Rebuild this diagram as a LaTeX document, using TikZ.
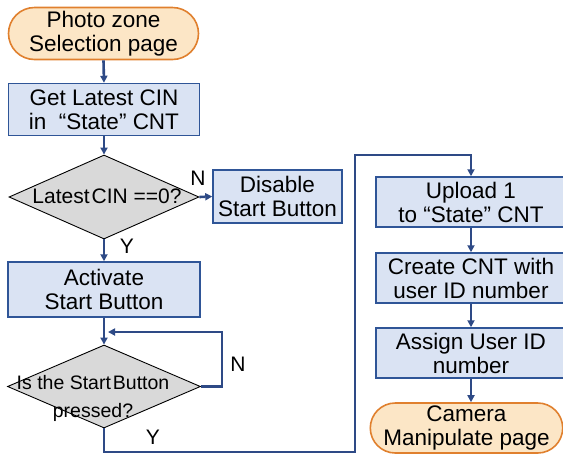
\documentclass[tikz,border=0pt]{standalone}
\usepackage{fontspec}
\setmainfont{Liberation Sans}
\usetikzlibrary{shapes.misc,shapes.geometric,arrows.meta}
\definecolor{termfill}{HTML}{FCE6C6}
\definecolor{termdraw}{HTML}{E0802E}
\definecolor{boxfill}{HTML}{DAE3F3}
\definecolor{boxdraw}{HTML}{2F5597}
\definecolor{arrowcol}{HTML}{2E4A86}
\definecolor{diafill}{HTML}{D9D9D9}
\begin{document}
\begin{tikzpicture}[x=1pt,y=-1pt,
  term/.style={rounded rectangle, draw=termdraw, fill=termfill, line width=1.6pt, inner sep=0pt, align=center, font=\fontsize{22.5}{23.5}\selectfont},
  procbox/.style={rectangle, draw=boxdraw, fill=boxfill, line width=1.5pt, inner sep=0pt, align=center, font=\fontsize{22.5}{24}\selectfont},
  decision/.style={diamond, draw=black, fill=diafill, line width=0.9pt, inner sep=0pt},
  arr/.style={draw=arrowcol, line width=2.6pt, -{Triangle[length=7pt,width=7pt]}},
  lbl/.style={font=\fontsize{21}{22}\selectfont, inner sep=0pt}]
\useasboundingbox (0,0) rectangle (563,456);
\clip (0,0) rectangle (563,456);
% left column
\node[term, minimum width=190pt, minimum height=52pt] (start) at (103.5,33.5) {Photo zone\\Selection page};
\node[procbox, minimum width=191pt, minimum height=52pt] (get) at (104,109.5) {Get Latest CIN\\in \ ``State'' CNT};
\node[decision, minimum width=190pt, minimum height=84pt] (d1) at (104,197) {};
\node[font=\fontsize{21}{22}\selectfont, inner sep=0pt] (d1t) at (107,196) {Latest\hspace{0.1em}CIN ==0?};
\node[procbox, minimum width=129pt, minimum height=53pt] (dis) at (277.5,196.5) {Disable\\Start Button};
\node[procbox, minimum width=192pt, minimum height=55pt] (act) at (104,289.5) {Activate\\Start Button};
\node[decision, minimum width=193pt, minimum height=83pt] (d2) at (104,386.5) {};
\node[font=\fontsize{19.5}{28}\selectfont, inner sep=0pt, align=center] (d2t) at (93,398) {Is the Start\hspace{0.1em}Button\\pressed?};
% right column
\node[procbox, minimum width=190pt, minimum height=50pt] (up) at (471,202) {Upload 1\\to ``State'' CNT};
\node[procbox, minimum width=190pt, minimum height=50pt] (cre) at (471,278) {Create CNT with\\user ID number};
\node[procbox, minimum width=190pt, minimum height=50pt] (asg) at (471,353) {Assign User ID\\number};
\node[term, minimum width=183pt, minimum height=50pt] (cam) at (466.5,428) {Camera\\Manipulate page};
% helper coordinates
\coordinate (loopA) at (222,386.5);
\coordinate (loopB) at (222,332);
\coordinate (loopEnd) at (108,332);
\coordinate (yA) at (104,452);
\coordinate (yB) at (355,452);
\coordinate (yC) at (355,155);
\coordinate (yD) at (471,155);
% connectors
\draw[arr] (start.south) -- (get.north);
\draw[arr] (get.south) -- (d1.north);
\draw[arr] (d1.east) -- (dis.west);
\draw[arr] (d1.south) -- (act.north);
\draw[arr] (act.south) -- (d2.north);
\draw[arr, line join=miter] (d2.east) -- (loopA) -- (loopB) -- (loopEnd);
\draw[arr, line join=miter] (d2.south) -- (yA) -- (yB) -- (yC) -- (yD) -- (up.north);
\draw[arr] (up.south) -- (cre.north);
\draw[arr] (cre.south) -- (asg.north);
\draw[arr] (asg.south) -- (asg.south |- cam.north);
% labels
\node[lbl] (n1) at (198,178) {N};
\node[lbl] (y1) at (127,246) {Y};
\node[lbl] (n2) at (238,364) {N};
\node[lbl] (y2) at (153,437) {Y};
\end{tikzpicture}
\end{document}
